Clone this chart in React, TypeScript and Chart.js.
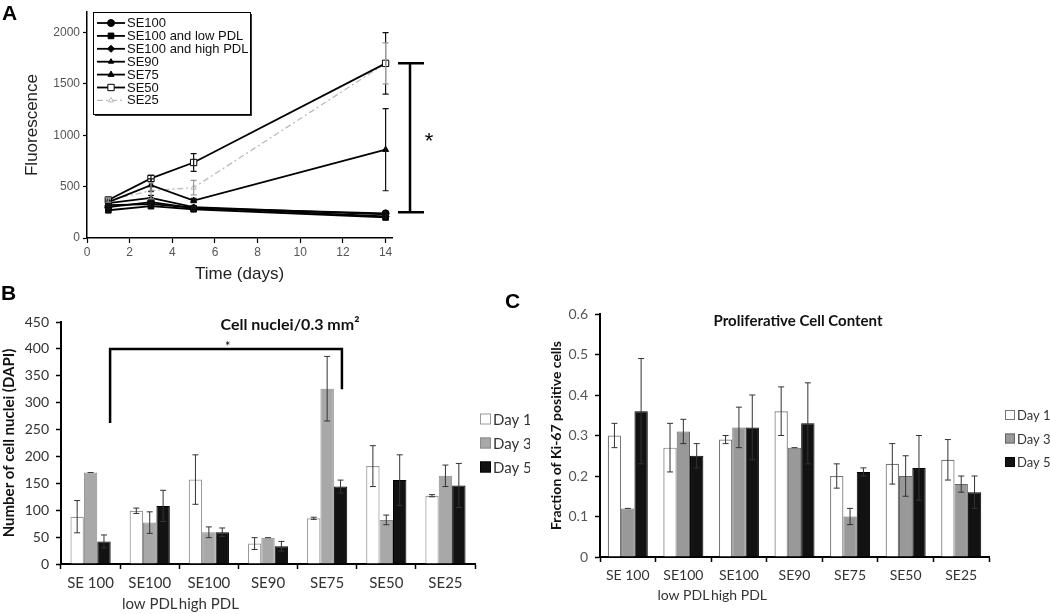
import React, { useEffect, useRef } from "react";
import { Chart, registerables } from "chart.js";
import { drawPoint } from "chart.js/helpers";

Chart.register(...registerables);

// ---------- Panel A data ----------
const A_DAYS = [1, 3, 5, 14];
const A_X_TICKS = [0, 2, 4, 6, 8, 10, 12, 14];
const A_Y_TICKS = [0, 500, 1000, 1500, 2000];
const A_NAMES = ["SE100", "SE100 and low PDL", "SE100 and high PDL", "SE90", "SE75", "SE50", "SE25"];
const A_SE100 = [300, 350, 290, 240];
const A_SE100_LOW = [270, 310, 280, 200];
const A_SE100_HIGH = [320, 330, 295, 210];
const A_SE90 = [340, 390, 300, 230];
const A_SE75 = [350, 515, 365, 860];
const A_SE50 = [370, 580, 735, 1700];
const A_SE25 = [370, 460, 490, 1700];
const A_ERR_SE100 = [15, 20, 15, 20];
const A_ERR_SE100_LOW = [15, 20, 15, 15];
const A_ERR_SE100_HIGH = [15, 20, 15, 15];
const A_ERR_SE90 = [15, 25, 15, 15];
const A_ERR_SE75 = [20, 60, 20, 400];
const A_ERR_SE50 = [20, 30, 87, 300];
const A_ERR_SE25 = [20, 80, 70, 200];
const A_SIG_TOP = 1700;
const A_SIG_BOTTOM = 250;

// ---------- Panels B & C data ----------
const GROUPS: (string | string[])[] = ["SE 100", ["SE100", "low PDL"], ["SE100", "high PDL"], "SE90", "SE75", "SE50", "SE25"];
const DAY_LABELS = ["Day 1", "Day 3", "Day 5"];

const B_DAY1 = [88, 99, 157, 38, 85, 182, 127];
const B_DAY3 = [170, 77, 59, 49, 326, 82, 164];
const B_DAY5 = [42, 108, 59, 33, 144, 156, 146];
const B_ERR_DAY1 = [30, 5, 46, 11, 2, 38, 2];
const B_ERR_DAY3 = [0, 20, 10, 0, 60, 9, 20];
const B_ERR_DAY5 = [12, 29, 8, 9, 12, 47, 41];
const B_SIG_LEVEL = 400;
const B_SIG_LEFT_END = 262;
const B_SIG_RIGHT_END = 325;

const C_DAY1 = [0.30, 0.27, 0.29, 0.36, 0.20, 0.23, 0.24];
const C_DAY3 = [0.12, 0.31, 0.32, 0.27, 0.10, 0.20, 0.18];
const C_DAY5 = [0.36, 0.25, 0.32, 0.33, 0.21, 0.22, 0.16];
const C_ERR_DAY1 = [0.03, 0.06, 0.01, 0.06, 0.03, 0.05, 0.05];
const C_ERR_DAY3 = [0, 0.03, 0.05, 0, 0.02, 0.05, 0.02];
const C_ERR_DAY5 = [0.13, 0.03, 0.08, 0.10, 0.01, 0.08, 0.04];

const ARIAL = "'Liberation Sans', Arial, sans-serif";
const CALIBRI = "Lato, 'Open Sans', sans-serif";

// ---------- plugins ----------
const errorBarPlugin = {
  id: "errorBars",
  afterDatasetsDraw(chart: any, _a: any, opts: any) {
    const { ctx } = chart;
    const yScale = chart.scales.y;
    chart.data.datasets.forEach((ds: any, di: number) => {
      const errs = ds.errors;
      if (!errs) return;
      const meta = chart.getDatasetMeta(di);
      meta.data.forEach((el: any, i: number) => {
        const e = errs[i];
        if (e == null) return;
        const raw = ds.data[i];
        const v = typeof raw === "number" ? raw : raw.y;
        const x = el.x;
        const yt = yScale.getPixelForValue(v + e);
        const yb = yScale.getPixelForValue(v - e);
        const cap = opts.cap ?? 3;
        ctx.save();
        ctx.strokeStyle = ds.errorColor || opts.color || "#222";
        ctx.lineWidth = opts.width ?? 1;
        ctx.beginPath();
        if (e > 0) {
          ctx.moveTo(x, yt);
          ctx.lineTo(x, yb);
          ctx.moveTo(x - cap, yb);
          ctx.lineTo(x + cap, yb);
        }
        ctx.moveTo(x - cap, yt);
        ctx.lineTo(x + cap, yt);
        ctx.stroke();
        ctx.restore();
      });
    });
  },
};

const panelALegendPlugin = {
  id: "panelALegend",
  afterDraw(chart: any) {
    const { ctx } = chart;
    const bx = 93, by = 12, bw = 157, bh = 102;
    ctx.save();
    ctx.fillStyle = "#333";
    ctx.fillRect(bx + 2, by + 2, bw, bh);
    ctx.fillStyle = "#fff";
    ctx.fillRect(bx, by, bw, bh);
    ctx.strokeStyle = "#000";
    ctx.lineWidth = 1;
    ctx.strokeRect(bx + 0.5, by + 0.5, bw, bh);
    chart.data.datasets.forEach((ds: any, i: number) => {
      const y = 23 + i * 12.9;
      ctx.save();
      ctx.strokeStyle = ds.borderColor;
      ctx.lineWidth = ds.borderWidth;
      ctx.setLineDash(ds.borderDash || []);
      ctx.beginPath();
      ctx.moveTo(97, y);
      ctx.lineTo(125, y);
      ctx.stroke();
      ctx.setLineDash([]);
      ctx.fillStyle = ds.pointBackgroundColor;
      ctx.strokeStyle = ds.pointBorderColor;
      ctx.lineWidth = 1;
      drawPoint(ctx, { pointStyle: ds.pointStyle, radius: ds.pointRadius, rotation: 0, borderWidth: 1 } as any, 111, y);
      ctx.restore();
      ctx.fillStyle = "#111";
      ctx.font = `13px ${ARIAL}`;
      ctx.textBaseline = "middle";
      ctx.textAlign = "left";
      ctx.fillText(ds.label, 127, y + 0.5);
    });
    // significance bracket
    const yS = chart.scales.y;
    const right = chart.chartArea.right;
    const yt = yS.getPixelForValue(A_SIG_TOP);
    const yb = yS.getPixelForValue(A_SIG_BOTTOM);
    ctx.strokeStyle = "#000";
    ctx.lineWidth = 2.5;
    ctx.beginPath();
    ctx.moveTo(right + 6, yt);
    ctx.lineTo(right + 32, yt);
    ctx.moveTo(right + 6, yb);
    ctx.lineTo(right + 32, yb);
    ctx.moveTo(right + 18, yt);
    ctx.lineTo(right + 18, yb);
    ctx.stroke();
    ctx.fillStyle = "#000";
    ctx.font = `22px ${ARIAL}`;
    ctx.textAlign = "center";
    ctx.textBaseline = "middle";
    ctx.fillText("*", right + 37, (yt + yb) / 2 + 4);
    ctx.restore();
  },
};

function makeBarLegend(x: number, y0: number, step: number, size: number, fontPx: number) {
  return {
    id: "barLegend",
    afterDraw(chart: any) {
      const { ctx } = chart;
      ctx.save();
      chart.data.datasets.forEach((ds: any, i: number) => {
        const y = y0 + i * step;
        ctx.fillStyle = ds.backgroundColor;
        ctx.fillRect(x, y - size / 2, size, size);
        ctx.strokeStyle = ds.borderColor;
        ctx.lineWidth = 1;
        ctx.strokeRect(x + 0.5, y - size / 2 + 0.5, size - 1, size - 1);
        ctx.fillStyle = "#333";
        ctx.font = `${fontPx}px ${CALIBRI}`;
        ctx.textBaseline = "middle";
        ctx.textAlign = "left";
        ctx.fillText(ds.label, x + size + 2, y + 1);
      });
      ctx.restore();
    },
  };
}

function makeTitle(text: string, dx: number, dy: number, fontPx: number) {
  return {
    id: "innerTitle",
    afterDraw(chart: any) {
      const { ctx, chartArea } = chart;
      ctx.save();
      ctx.fillStyle = "#111";
      ctx.font = `bold ${fontPx}px ${CALIBRI}`;
      ctx.textAlign = "center";
      ctx.textBaseline = "middle";
      ctx.fillText(text, chartArea.left + dx, chartArea.top + dy);
      ctx.restore();
    },
  };
}

const bBracketPlugin = {
  id: "bBracket",
  afterDraw(chart: any) {
    const { ctx } = chart;
    const xS = chart.scales.x;
    const yS = chart.scales.y;
    const xl = xS.getPixelForValue(0.33);
    const xr = xS.getPixelForValue(4.25);
    const yl = yS.getPixelForValue(B_SIG_LEVEL);
    ctx.save();
    ctx.strokeStyle = "#000";
    ctx.lineWidth = 2.5;
    ctx.beginPath();
    ctx.moveTo(xl, yS.getPixelForValue(B_SIG_LEFT_END));
    ctx.lineTo(xl, yl);
    ctx.lineTo(xr, yl);
    ctx.lineTo(xr, yS.getPixelForValue(B_SIG_RIGHT_END));
    ctx.stroke();
    ctx.fillStyle = "#000";
    ctx.font = `13px ${CALIBRI}`;
    ctx.textAlign = "center";
    ctx.textBaseline = "middle";
    ctx.fillText("*", xS.getPixelForValue(2.32), yl - 2);
    ctx.restore();
  },
};

// ---------- chart builders ----------
function lineDs(label: string, vals: number[], errs: number[], style: any, bg: string, color = "#000", dash: number[] = [], radius = 3.5) {
  return {
    label,
    data: A_DAYS.map((d, i) => ({ x: d, y: vals[i] })),
    errors: errs,
    borderColor: color,
    borderWidth: color === "#000" ? 1.8 : 1.3,
    borderDash: dash,
    pointStyle: style,
    pointRadius: radius,
    pointBackgroundColor: bg,
    pointBorderColor: color,
    pointBorderWidth: 1,
    errorColor: color === "#000" ? "#111" : "#999",
  };
}

function buildA(canvas: HTMLCanvasElement) {
  return new Chart(canvas, {
    type: "line",
    data: {
      datasets: [
        lineDs(A_NAMES[0], A_SE100, A_ERR_SE100, "circle", "#000"),
        lineDs(A_NAMES[1], A_SE100_LOW, A_ERR_SE100_LOW, "rect", "#000", "#000", [], 4),
        lineDs(A_NAMES[2], A_SE100_HIGH, A_ERR_SE100_HIGH, "rectRot", "#000", "#000", [], 3.5),
        lineDs(A_NAMES[3], A_SE90, A_ERR_SE90, "triangle", "#000", "#000", [], 3),
        lineDs(A_NAMES[4], A_SE75, A_ERR_SE75, "triangle", "#000", "#000", [], 3.5),
        lineDs(A_NAMES[5], A_SE50, A_ERR_SE50, "rect", "#fff", "#000", [], 4.5),
        lineDs(A_NAMES[6], A_SE25, A_ERR_SE25, "triangle", "#fff", "#bbb", [6, 3, 2, 3], 3),
      ] as any,
    },
    options: {
      responsive: false,
      animation: false,
      events: [],
      layout: { padding: { left: 0, top: 12, right: 78, bottom: 0 } },
      plugins: { legend: { display: false }, tooltip: { enabled: false }, errorBars: { cap: 3, width: 1.2 } } as any,
      scales: {
        x: {
          type: "linear",
          min: 0,
          max: 14.3,
          afterBuildTicks: (s: any) => { s.ticks = A_X_TICKS.map((v) => ({ value: v })); },
          afterFit: (s: any) => { s.height = 47; },
          grid: { drawOnChartArea: false, drawTicks: true, tickLength: 5, tickColor: "#000", tickWidth: 1.2 },
          border: { color: "#000", width: 1.5 },
          ticks: { color: "#555", font: { family: ARIAL, size: 12 }, padding: 2, maxRotation: 0, callback: (v: any) => String(v) },
          title: { display: true, text: "Time (days)", color: "#222", font: { family: ARIAL, size: 17 }, padding: { top: 0, bottom: 0 } },
        },
        y: {
          type: "linear",
          min: 0,
          max: 2200,
          afterBuildTicks: (s: any) => { s.ticks = A_Y_TICKS.map((v) => ({ value: v })); },
          afterFit: (s: any) => { s.width = 87; },
          grid: { drawOnChartArea: false, drawTicks: true, tickLength: 4, tickColor: "#000", tickWidth: 1.2 },
          border: { color: "#000", width: 1.5 },
          ticks: { color: "#555", font: { family: ARIAL, size: 12 }, padding: 3, callback: (v: any) => String(v) },
          title: { display: true, text: "Fluorescence", color: "#222", font: { family: ARIAL, size: 17 }, padding: { top: 22, bottom: 0 } },
        },
      },
    },
    plugins: [errorBarPlugin, panelALegendPlugin],
  } as any);
}

function barDatasets(d1: number[], d3: number[], d5: number[], e1: number[], e3: number[], e5: number[], d1Border: string, d3Fill: string, d3Border: string) {
  return [
    { label: DAY_LABELS[0], data: d1, errors: e1, backgroundColor: "#ffffff", borderColor: d1Border, borderWidth: 1.2 },
    { label: DAY_LABELS[1], data: d3, errors: e3, backgroundColor: d3Fill, borderColor: d3Border, borderWidth: 1 },
    { label: DAY_LABELS[2], data: d5, errors: e5, backgroundColor: "#121212", borderColor: "#000", borderWidth: 1 },
  ];
}

function buildBar(
  canvas: HTMLCanvasElement,
  cfg: {
    datasets: any[]; catPct: number; max: number; step: number; padding: any; yWidth: number; xHeight: number;
    yTitle: string; yTitleSize: number; yTitlePad: number; tickSize: number; xTickSize: number; tickColor: string;
    lineHeight: number; plugins: any[];
  }
) {
  return new Chart(canvas, {
    type: "bar",
    data: { labels: GROUPS as any, datasets: cfg.datasets.map((d) => ({ ...d, barPercentage: 1, categoryPercentage: cfg.catPct })) },
    options: {
      responsive: false,
      animation: false,
      events: [],
      layout: { padding: cfg.padding },
      plugins: { legend: { display: false }, tooltip: { enabled: false }, errorBars: { cap: 3, width: 1, color: "#333" } } as any,
      scales: {
        x: {
          type: "category",
          offset: true,
          afterFit: (s: any) => { s.height = cfg.xHeight; },
          grid: { offset: true, drawOnChartArea: false, drawTicks: true, tickLength: 5, tickColor: "#000", tickWidth: 1.5 },
          border: { color: "#000", width: 2 },
          ticks: { color: "#333", font: { family: CALIBRI, size: cfg.xTickSize, lineHeight: cfg.lineHeight }, padding: 4, maxRotation: 0, autoSkip: false },
        },
        y: {
          type: "linear",
          min: 0,
          max: cfg.max,
          afterFit: (s: any) => { s.width = cfg.yWidth; },
          grid: { drawOnChartArea: false, drawTicks: true, tickLength: 5, tickColor: "#000", tickWidth: 1.5 },
          border: { color: "#000", width: 2 },
          ticks: { stepSize: cfg.step, color: cfg.tickColor, font: { family: CALIBRI, size: cfg.tickSize }, padding: 7 },
          title: { display: true, text: cfg.yTitle, color: "#111", font: { family: CALIBRI, size: cfg.yTitleSize, weight: "bold" }, padding: { top: cfg.yTitlePad, bottom: 0 } },
        },
      },
    },
    plugins: [errorBarPlugin, ...cfg.plugins],
  } as any);
}

function useChart(build: (c: HTMLCanvasElement) => Chart) {
  const ref = useRef<HTMLCanvasElement | null>(null);
  useEffect(() => {
    if (!ref.current) return;
    const ch = build(ref.current);
    return () => ch.destroy();
  }, []);
  return ref;
}

const letterStyle: React.CSSProperties = {
  position: "absolute",
  fontFamily: ARIAL,
  fontWeight: "bold",
  fontSize: 21,
  lineHeight: "21px",
  color: "#000",
};

export default function App() {
  const refA = useChart(buildA);
  const refB = useChart((c) =>
    buildBar(c, {
      datasets: barDatasets(B_DAY1, B_DAY3, B_DAY5, B_ERR_DAY1, B_ERR_DAY3, B_ERR_DAY5, "#9a9a9a", "#a8a8a8", "#8a8a8a"),
      catPct: 0.68,
      max: 450,
      step: 50,
      padding: { left: 0, top: 37, right: 55, bottom: 0 },
      yWidth: 61,
      xHeight: 50,
      yTitle: "Number of cell nuclei (DAPI)",
      yTitleSize: 15,
      yTitlePad: 0,
      tickSize: 14,
      xTickSize: 15,
      tickColor: "#333",
      lineHeight: 1.4,
      plugins: [makeBarLegend(480, 134, 24, 11, 15), makeTitle("Cell nuclei/0.3 mm²", 229, 3, 16), bBracketPlugin],
    })
  );
  const refC = useChart((c) =>
    buildBar(c, {
      datasets: barDatasets(C_DAY1, C_DAY3, C_DAY5, C_ERR_DAY1, C_ERR_DAY3, C_ERR_DAY5, "#777", "#999", "#666"),
      catPct: 0.72,
      max: 0.6,
      step: 0.1,
      padding: { left: 0, top: 29, right: 61, bottom: 0 },
      yWidth: 70,
      xHeight: 57,
      yTitle: "Fraction of Ki-67 positive cells",
      yTitleSize: 14,
      yTitlePad: 18,
      tickSize: 14,
      xTickSize: 14,
      tickColor: "#555",
      lineHeight: 1.4,
      plugins: [makeBarLegend(475, 130, 23.5, 10, 13), makeTitle("Proliferative Cell Content", 198, 7, 15)],
    })
  );

  return (
    <div style={{ position: "fixed", left: 0, top: 0, width: 1050, height: 614, background: "#fff", overflow: "hidden" }}>
      <canvas ref={refA} width={470} height={285} style={{ position: "absolute", left: 0, top: 0 }} />
      <canvas ref={refB} width={530} height={329} style={{ position: "absolute", left: 0, top: 285 }} />
      <canvas ref={refC} width={520} height={329} style={{ position: "absolute", left: 530, top: 285 }} />
      <div style={{ ...letterStyle, left: 2, top: 2 }}>A</div>
      <div style={{ ...letterStyle, left: 1, top: 282 }}>B</div>
      <div style={{ ...letterStyle, left: 505, top: 290 }}>C</div>
    </div>
  );
}
